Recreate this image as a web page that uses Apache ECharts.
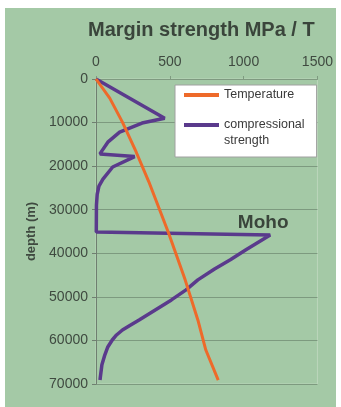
<!DOCTYPE html>
<html>
<head>
<meta charset="utf-8">
<script src="https://cdn.jsdelivr.net/npm/echarts@6/dist/echarts.min.js"></script>
<style>
  html, body { margin: 0; padding: 0; background: #ffffff; }
  #chart { position: absolute; left: 5px; top: 8px; width: 331px; height: 399px; }
</style>
</head>
<body>
<div id="chart"></div>
<script>
// ---- data ----
const title = 'Margin strength MPa / T';
const xTicks = [0, 500, 1000, 1500];
const yTicks = [0, 10000, 20000, 30000, 40000, 50000, 60000, 70000];

// Temperature curve: value (x) and depth in m (y)
const tempValue = [0, 93, 179, 272, 358, 491, 604, 690, 744, 828];
const tempDepth = [0, 4400, 9900, 16750, 23600, 35300, 46100, 55300, 62200, 69100];

// Compressional strength curve: value (MPa) and depth in m
const strengthValue = [0, 465, 312, 160, 80, 40, 27, 262, 113, 47, 20, 8, 3, 2, 1180, 1016, 910, 803, 690, 610, 511, 292, 232, 179, 139, 110, 80, 60, 40, 27];
const strengthDepth = [0, 9000, 10100, 12200, 14500, 16500, 17200, 17800, 20200, 23000, 24600, 26500, 29000, 35100, 35800, 39200, 41500, 43600, 46100, 48400, 50700, 55300, 56500, 57600, 58750, 59900, 61500, 63300, 65600, 69100];

const mohoLabel = 'Moho';
const mohoIndex = 14;

const pairs = (xs, ys) => xs.map((v, i) => [v, ys[i]]);

const chart = echarts.init(document.getElementById('chart'));
const textCol = '#3f4a40';
const font = 'Liberation Sans, Arial, sans-serif';
chart.setOption({
  backgroundColor: '#a4c9a6',
  animation: false,
  title: {
    text: title,
    left: 78,
    top: 7,
    textStyle: { fontFamily: font, fontSize: 20, fontWeight: 'bold', color: '#3a453b' }
  },
  grid: { left: 91, top: 71, right: 14, bottom: 23, show: true, borderColor: '#bcd6bc', borderWidth: 1 },
  legend: {
    orient: 'vertical',
    left: 170,
    top: 77,
    backgroundColor: '#ffffff',
    borderColor: '#a0a0a0',
    borderWidth: 1,
    padding: [2, 12, 8, 9],
    itemGap: -2,
    itemWidth: 35,
    itemHeight: 4,
    icon: 'rect',
    textStyle: { fontFamily: font, fontSize: 12.5, color: '#3a3a3a', lineHeight: 16 },
    formatter: function (name) {
      return name === 'Temperature' ? 'Temperature' : '\ncompressional\nstrength';
    },
    data: ['Temperature', 'compressional strength']
  },
  xAxis: {
    type: 'value',
    position: 'top',
    min: xTicks[0],
    max: xTicks[xTicks.length - 1],
    interval: 500,
    axisLine: { show: true, lineStyle: { color: '#7f9a80' } },
    axisTick: { show: true, length: 3, lineStyle: { color: '#7f9a80' } },
    splitLine: { show: false },
    axisLabel: { fontFamily: font, fontSize: 14, color: textCol, margin: 10, formatter: v => String(v) }
  },
  yAxis: {
    type: 'value',
    inverse: true,
    min: yTicks[0],
    max: yTicks[yTicks.length - 1],
    interval: 10000,
    name: 'depth (m)',
    nameLocation: 'middle',
    nameGap: 55,
    nameTextStyle: { fontFamily: font, fontSize: 13, fontWeight: 'bold', color: textCol },
    axisLine: { show: true, lineStyle: { color: '#6f7f70' } },
    axisTick: { show: true, length: 4, lineStyle: { color: '#6f7f70' } },
    splitLine: { show: true, lineStyle: { color: '#7d9a7f', width: 1 } },
    axisLabel: { fontFamily: font, fontSize: 14, color: textCol, margin: 8, formatter: v => String(v) }
  },
  series: [
    {
      name: 'compressional strength',
      type: 'line',
      data: pairs(strengthValue, strengthDepth),
      showSymbol: false,
      symbol: 'none',
      lineStyle: { color: '#5a3a8c', width: 3.5 },
      itemStyle: { color: '#5a3a8c' },
      z: 2,
      markPoint: {
        symbol: 'circle',
        symbolSize: 0,
        data: [{ coord: [strengthValue[mohoIndex], strengthDepth[mohoIndex]], value: mohoLabel }],
        label: {
          show: true,
          position: 'inside',
          offset: [-7, -12],
          formatter: mohoLabel,
          fontFamily: font,
          fontSize: 19,
          fontWeight: 'bold',
          color: '#3a453b'
        }
      }
    },
    {
      name: 'Temperature',
      type: 'line',
      data: pairs(tempValue, tempDepth),
      showSymbol: false,
      symbol: 'none',
      lineStyle: { color: '#ee6a2a', width: 3 },
      itemStyle: { color: '#ee6a2a' },
      z: 3
    }
  ]
});
</script>
</body>
</html>
